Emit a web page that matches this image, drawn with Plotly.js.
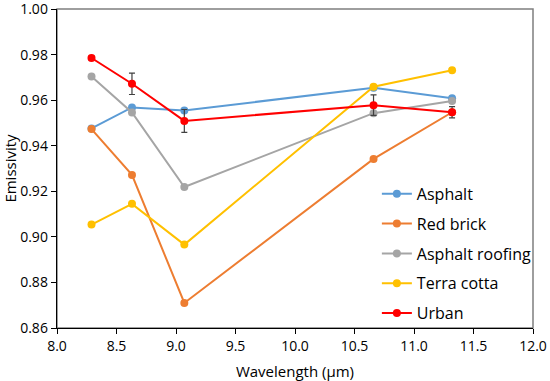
<!DOCTYPE html>
<html>
<head>
<meta charset="utf-8">
<script src="https://cdn.plot.ly/plotly-3.0.1.min.js"></script>
<style>html,body{margin:0;padding:0;background:#fff;}#chart{width:550px;height:381px;}</style>
</head>
<body>
<div id="chart"></div>
<script>
const wavelength = [8.29, 8.63, 9.07, 10.66, 11.32];
const seriesNames = ["Asphalt", "Red brick", "Asphalt roofing", "Terra cotta", "Urban"];
const asphalt = [0.9476, 0.9568, 0.9555, 0.9654, 0.9608];
const redBrick = [0.9473, 0.9272, 0.8710, 0.9342, 0.9547];
const asphaltRoofing = [0.9704, 0.9546, 0.9219, 0.9543, 0.9596];
const terraCotta = [0.9054, 0.9145, 0.8966, 0.9659, 0.9731];
const urban = [0.9785, 0.9672, 0.9509, 0.9578, 0.9547];
const urbanError = [0.0008, 0.0047, 0.0050, 0.0045, 0.0025];
const colors = ["#5B9BD5", "#ED7D31", "#A5A5A5", "#FFC000", "#FF0000"];
const xTicks = [8.0, 8.5, 9.0, 9.5, 10.0, 10.5, 11.0, 11.5, 12.0];
const yTicks = [0.86, 0.88, 0.90, 0.92, 0.94, 0.96, 0.98, 1.00];

const values = [asphalt, redBrick, asphaltRoofing, terraCotta, urban];
const traces = values.map((v, i) => {
  const t = {
    x: wavelength, y: v, name: seriesNames[i], type: 'scatter', mode: 'lines+markers',
    line: {color: colors[i], width: 2},
    marker: {color: colors[i], size: 8},
    legendgroup: 'g' + i
  };
  if (i === 4) {
    t.error_y = {type: 'data', array: urbanError, visible: true, color: '#404040', thickness: 1.2, width: 3};
  }
  return t;
});

const font = "'Open Sans', 'Noto Sans', sans-serif";
const layout = {
  width: 550, height: 381,
  margin: {l: 57, r: 17, t: 9, b: 53},
  paper_bgcolor: '#fff', plot_bgcolor: '#fff',
  font: {family: font, color: '#000', size: 14},
  showlegend: true,
  legend: {
    x: 0.672, y: -0.006, xanchor: 'left', yanchor: 'bottom',
    bgcolor: 'rgba(255,255,255,0)', font: {family: font, size: 16, color: '#000'},
    traceorder: 'grouped', tracegroupgap: 6, itemwidth: 30
  },
  xaxis: {
    range: [8, 12], tickvals: xTicks, ticktext: xTicks.map(v => v.toFixed(1)),
    showgrid: false, zeroline: false, showline: true, linecolor: '#000', linewidth: 1.3,
    ticks: 'outside', ticklen: 5, tickcolor: '#000', tickfont: {size: 14},
    title: {text: 'Wavelength (μm)', font: {size: 15}, standoff: 12}
  },
  yaxis: {
    range: [0.86, 1.00002], tickvals: yTicks, ticktext: yTicks.map(v => v.toFixed(2)),
    showgrid: false, zeroline: false, showline: true, linecolor: '#000', linewidth: 1.3,
    ticks: 'outside', ticklen: 5, tickcolor: '#000', tickfont: {size: 14},
    ticklabeloverflow: 'allow',
    title: {text: 'Emissivity', font: {size: 15}, standoff: 5}
  },
  shapes: [{type: 'rect', xref: 'paper', yref: 'paper', x0: 0, x1: 1, y0: 0, y1: 1,
    line: {color: '#7f7f7f', width: 1.5}, layer: 'below'}]
};
Plotly.newPlot('chart', traces, layout, {displayModeBar: false, staticPlot: true});
</script>
</body>
</html>
